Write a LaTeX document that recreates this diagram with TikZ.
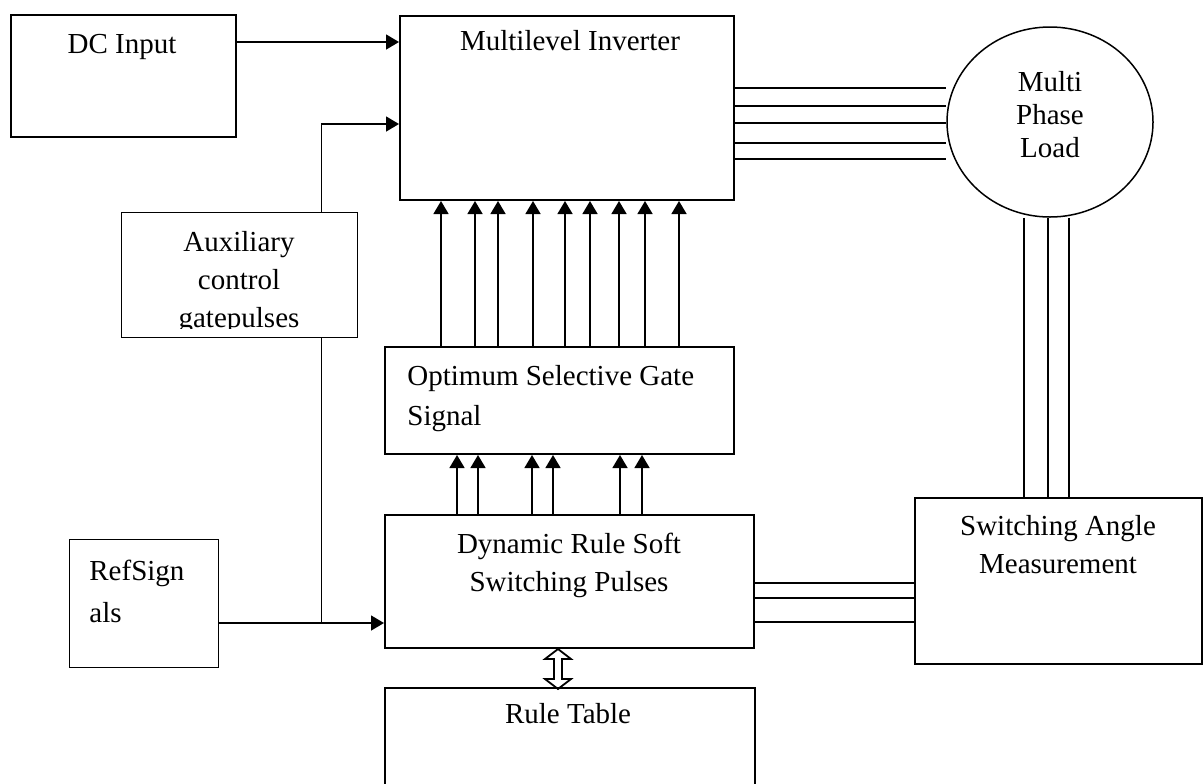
\documentclass[tikz,border=0pt]{standalone}
\usepackage{fontspec}
\setmainfont{Liberation Serif}
\usetikzlibrary{arrows.meta,shapes.geometric}

\tikzset{
  blk/.style={draw,line width=1pt,anchor=north west,inner sep=0pt},
  thinblk/.style={draw,line width=0.5pt,anchor=north west,inner sep=0pt},
  txt/.style={inner sep=0pt,align=center,font=\fontsize{14.5pt}{19pt}\selectfont},
  arr/.style={line width=0.75pt,-{Triangle[length=6.5pt,width=7.5pt]}},
  wire/.style={line width=0.75pt}
}

\begin{document}
\begin{tikzpicture}[x=0.5pt,y=-0.5pt]
\useasboundingbox (0,0) rectangle (1203,783);
\clip (0,0) rectangle (1203,783);

% blocks
\node[blk,minimum width=112.5pt,minimum height=61pt] (dc) at (10,14) {};
\node[blk,minimum width=167pt,minimum height=92pt] (mi) at (399,15) {};
\node[thinblk,minimum width=118pt,minimum height=62.5pt] (aux) at (121,212) {};
\node[thinblk,minimum width=74.5pt,minimum height=64pt] (ref) at (69,539) {};
\node[blk,minimum width=174.5pt,minimum height=53.5pt] (osg) at (384,346) {};
\node[blk,minimum width=184.5pt,minimum height=66.5pt] (drs) at (384,514) {};
\node[blk,minimum width=185pt,minimum height=60pt] (rt) at (384,687) {};
\node[blk,minimum width=143.5pt,minimum height=83pt] (sam) at (914,497) {};
\node[draw,line width=0.75pt,ellipse,minimum width=103pt,minimum height=95pt,inner sep=0pt] (load) at (1050,122) {};

% texts (base = last line)
\node[txt,anchor=base] (dctxt) at (122,53) {DC Input};
\node[txt,anchor=base] (mitxt) at (570,50) {Multilevel Inverter};
\begin{scope}
\clip (aux.north west) rectangle ([yshift=5pt]aux.south east);
\node[txt,anchor=base] (auxtxt) at (239,327) {Auxiliary\\control\\gatepulses};
\end{scope}
\node[txt,anchor=base west,align=left,font=\fontsize{14.5pt}{21pt}\selectfont] (reftxt) at (89,622) {RefSign\\als};
\node[txt,anchor=base west,align=left,font=\fontsize{14.5pt}{20pt}\selectfont] (osgtxt) at (407,425) {Optimum Selective Gate\\Signal};
\node[txt,anchor=base] (drstxt) at (569,591) {Dynamic Rule Soft\\Switching Pulses};
\node[txt,anchor=base] (rttxt) at (568,723) {Rule Table};
\node[txt,anchor=base] (samtxt) at (1058,573) {Switching Angle\\Measurement};
\node[txt,anchor=base,font=\fontsize{14.5pt}{16.5pt}\selectfont] (loadtxt) at (1050,157) {Multi\\Phase\\Load};

% inputs of the inverter
\coordinate (in1) at ([yshift=33pt]mi.west);
\coordinate (in2) at ([yshift=-8pt]mi.west);
\coordinate (in3) at ([yshift=-20.75pt]drs.west);
\draw[arr] (dc.east |- in1) -- (in1);
\draw[arr] ([xshift=41pt]aux.north) |- (in2);
\draw[wire] ([xshift=41pt]aux.south) -- ([xshift=41pt]aux.south |- in3);
\draw[arr] (ref.east |- in3) -- (in3);

% gate signals
\foreach \x in {441,475,498,533,565,590,619,645,679}
  \draw[arr] (\x,0 |- osg.north) -- (\x,0 |- mi.south);
\foreach \x in {457,478,532,553,620,642}
  \draw[arr] (\x,0 |- drs.north) -- (\x,0 |- osg.south);

% phases
\foreach \y in {88,106,123,143,159}
  \draw[wire] (mi.east |- 0,\y) -- (load.west |- 0,\y);
\foreach \x in {1024,1048,1069}
  \draw[wire] (\x,0 |- load.south) -- (\x,0 |- sam.north);
\foreach \y in {583,598,622}
  \draw[wire] (drs.east |- 0,\y) -- (sam.west |- 0,\y);

% rule table link (hollow double arrow)
\coordinate (rl) at ([xshift=-5.75pt]drs.south);
\draw[line width=0.9pt,line join=miter] (rl) -- ++(13,10) -- ++(-9,0) -- ++(0,20) -- ++(9,0)
  -- ++(-13,10) -- ++(-13,-10) -- ++(9,0) -- ++(0,-20) -- ++(-9,0) -- cycle;

\end{tikzpicture}
\end{document}
